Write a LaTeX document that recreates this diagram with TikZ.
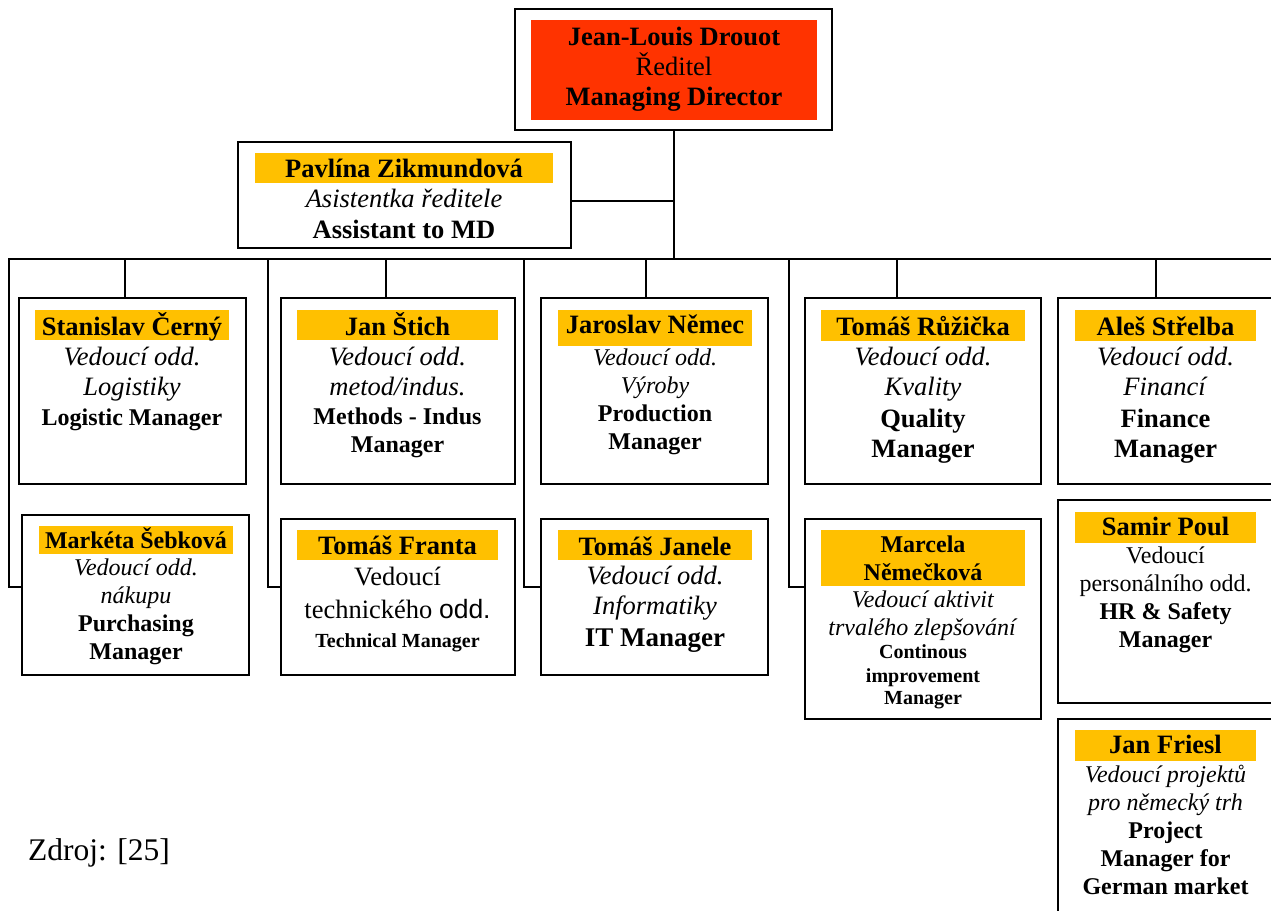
\documentclass[tikz,border=0pt]{standalone}
\usepackage{fontspec}
\setmainfont{Liberation Serif}
\setsansfont{Liberation Sans}
\usetikzlibrary{fit}

\definecolor{mdred}{RGB}{255,51,0}
\definecolor{namegold}{RGB}{255,192,0}

\newcommand\sizeL{\fontsize{26.5}{30}\selectfont}
\newcommand\sizeM{\fontsize{24}{28}\selectfont}
\newcommand\sizeS{\fontsize{20}{23}\selectfont}

\tikzset{
  post/.style={draw, line width=2pt, inner sep=0pt},
  namebar/.style={fill=namegold, inner sep=0pt},
  who/.style={inner sep=0pt, anchor=base, font=\sizeL\bfseries},
  role/.style={align=center, inner sep=0pt, anchor=base, font=\sizeL}, % base = last line
  link/.style={line width=2pt},
}

\begin{document}
\begin{tikzpicture}[x=1pt, y=-1pt] % one unit = one pixel of the chart
        \useasboundingbox (0,0) rectangle (1271,910);
        \clip (0,0) rectangle (1271,910);

        % director and assistant
        \node[post, fit={(515,9) (832,130)}] (md) {};
        \node[fill=mdred, inner sep=0pt, fit={(531,20) (817,120)}] (mdB) {};
        \node[role] (mdN) at (674,105) {\textbf{Jean-Louis Drouot}\\ Ředitel\\ \textbf{Managing Director}};
        \node[post, fit={(238,142) (571,248)}] (asst) {};
        \node[namebar, fit={(255,153) (553,183)}] (asstB) {};
        \node[who] (asstN) at (404,177) {Pavlína Zikmundová};
        \node[role] (asstR) at (404,238) {\textit{Asistentka ředitele}\\[1pt] \textbf{Assistant to MD}};

        % first row of departments
        \node[post, fit={(19,298) (246,484)}] (cerny) {};
        \node[namebar, fit={(35,310) (229,340)}] (cernyB) {};
        \node[who] (cernyN) at (132,335) {Stanislav Černý};
        \node[role] (cernyR) at (132,425) {\textit{Vedoucí odd.}\\ \textit{Logistiky}\\ {\sizeM\bfseries Logistic Manager}};

        \node[post, fit={(281,298) (515,484)}] (stich) {};
        \node[namebar, fit={(297,310) (498,340)}] (stichB) {};
        \node[who] (stichN) at (397.5,335) {Jan Štich};
        \node[role] (stichR) at (397.5,452) {\textit{Vedoucí odd.}\\ \textit{metod/indus.}\\[-1pt]
                {\sizeM\bfseries Methods - Indus}\\[-2pt] {\sizeM\bfseries Manager}};

        \node[post, fit={(541,298) (768,484)}] (nemec) {};
        \node[namebar, fit={(558,310) (752,346)}] (nemecB) {};
        \node[who] (nemecN) at (655,333) {Jaroslav Němec};
        \node[role, font=\sizeM] (nemecR) at (655,449) {\textit{Vedoucí odd.}\\ \textit{Výroby}\\
                \textbf{Production}\\ \textbf{Manager}};

        \node[post, fit={(805,298) (1041,484)}] (ruzicka) {};
        \node[namebar, fit={(821,310) (1025,341)}] (ruzickaB) {};
        \node[who] (ruzickaN) at (923,335) {Tomáš Růžička};
        \node[role] (ruzickaR) at (923,457) {\textit{Vedoucí odd.}\\ \textit{Kvality}\\[2pt]
                \textbf{Quality}\\ \textbf{Manager}};

        \node[post, fit={(1058,298) (1290,484)}] (strelba) {};
        \node[namebar, fit={(1075,310) (1256,341)}] (strelbaB) {};
        \node[who] (strelbaN) at (1165.5,335) {Aleš Střelba};
        \node[role] (strelbaR) at (1165.5,457) {\textit{Vedoucí odd.}\\ \textit{Financí}\\[2pt]
                \textbf{Finance}\\ \textbf{Manager}};

        % second row
        \node[post, fit={(22,515) (249,675)}] (sebkova) {};
        \node[namebar, fit={(39,526) (233,554)}] (sebkovaB) {};
        \node[who, font=\sizeM\bfseries] (sebkovaN) at (136,548) {Markéta Šebková};
        \node[role, font=\sizeM] (sebkovaR) at (136,659) {\textit{Vedoucí odd.}\\ \textit{nákupu}\\
                \textbf{Purchasing}\\ \textbf{Manager}};

        \node[post, fit={(281,519) (515,675)}] (franta) {};
        \node[namebar, fit={(297,530) (498,560)}] (frantaB) {};
        \node[who] (frantaN) at (397.5,554) {Tomáš Franta};
        \node[role] (frantaR) at (397.5,647) {Vedoucí\\[3pt] technického \textsf{odd.}\\[-1pt]
                {\sizeS\bfseries Technical Manager}};

        \node[post, fit={(541,519) (768,675)}] (janele) {};
        \node[namebar, fit={(558,530) (752,560)}] (janeleB) {};
        \node[who] (janeleN) at (655,555) {Tomáš Janele};
        \node[role] (janeleR) at (655,646) {\textit{Vedoucí odd.}\\ \textit{Informatiky}\\[2pt]
                {\fontsize{27}{30}\selectfont\bfseries IT Manager}};

        \node[post, fit={(805,519) (1041,719)}] (nemeckova) {};
        \node[namebar, fit={(821,530) (1025,586)}] (nemeckovaB) {};
        \node[who, font=\sizeM\bfseries, align=center] (nemeckovaN) at (923,580) {Marcela\\ Němečková};
        \node[role, font=\sizeM] (nemeckovaR) at (923,704) {\textit{Vedoucí aktivit}\\ \textit{trvalého zlepšování}\\[-5pt]
                {\sizeS\bfseries Continous}\\[-4pt] {\sizeS\bfseries improvement}\\[-6pt] {\sizeS\bfseries Manager}};

        % right column
        \node[post, fit={(1058,500) (1290,703)}] (poul) {};
        \node[namebar, fit={(1075,512) (1256,543)}] (poulB) {};
        \node[who] (poulN) at (1165.5,535) {Samir Poul};
        \node[role, font=\sizeM] (poulR) at (1165.5,647) {Vedoucí\\ personálního odd.\\
                \textbf{HR \& Safety}\\ \textbf{Manager}};

        \node[post, fit={(1058,719) (1290,930)}] (friesl) {};
        \node[namebar, fit={(1075,730) (1256,761)}] (frieslB) {};
        \node[who] (frieslN) at (1165.5,753) {Jan Friesl};
        \node[role, font=\sizeM] (frieslR) at (1165.5,894) {\textit{Vedoucí projektů}\\ \textit{pro německý trh}\\
                \textbf{Project}\\ \textbf{Manager for}\\ \textbf{German market}};

        \node[anchor=base west, inner sep=0pt, font=\fontsize{31.5}{36}\selectfont] (src) at (28,860) {Zdroj: [25]};

        % lines
        \coordinate (busL) at (8,259);
        \coordinate (busR) at (1290,259);
        \draw[link] (busL) -- (busR);
        \draw[link] (md.south) -- (md.south |- busL);
        \draw[link] ([yshift=-6pt]asst.east) -- ([yshift=-6pt]asst.east -| md.south);
        \foreach \b/\x in {cerny/125, stich/386, nemec/646, ruzicka/897, strelba/1156}
                \draw[link] (\x,259) -- (\x,0 |- \b.north);
        \foreach \b/\x in {sebkova/9, franta/268, janele/524, nemeckova/789}
                \draw[link] (\x,259) |- (\b.west |- 0,587);
\end{tikzpicture}
\end{document}
